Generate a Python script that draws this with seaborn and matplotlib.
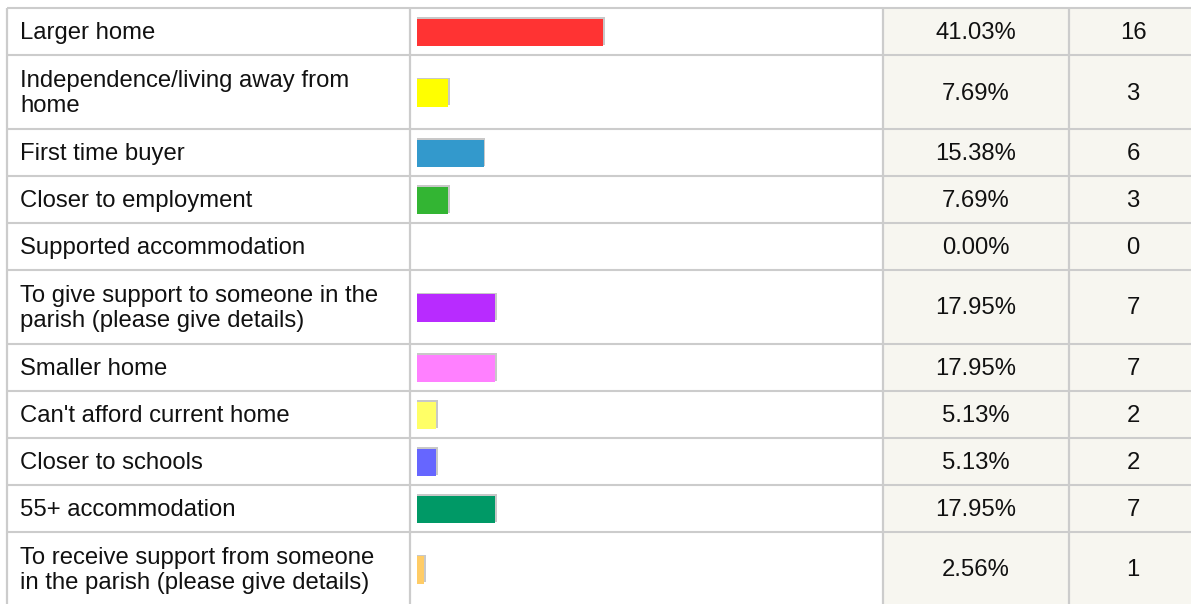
import numpy as np
import seaborn as sns
import matplotlib.pyplot as plt
from matplotlib import patheffects
from matplotlib.patches import Rectangle

labels = [
    "Larger home",
    "Independence/living away from\nhome",
    "First time buyer",
    "Closer to employment",
    "Supported accommodation",
    "To give support to someone in the\nparish (please give details)",
    "Smaller home",
    "Can't afford current home",
    "Closer to schools",
    "55+ accommodation",
    "To receive support from someone\nin the parish (please give details)",
]
percents = [41.03, 7.69, 15.38, 7.69, 0.00, 17.95, 17.95, 5.13, 5.13, 17.95, 2.56]
counts = [16, 3, 6, 3, 0, 7, 7, 2, 2, 7, 1]
colors = ["#ff3333", "#ffff00", "#3399cc", "#33b533", "#cccccc", "#b82bff",
          "#ff80ff", "#ffff66", "#6666ff", "#009966", "#ffcc66"]

W, H = 1191, 604
FONT = "Liberation Sans"
FS = 17.2
GRID = "#cccccc"
BEIGE = "#f7f6f0"

# table geometry in pixels
top = 8
left = 7
col_bar, col_pct, col_cnt = 410, 883, 1069
row_h = np.array([74 if "\n" in s else 47 for s in labels])
edges = top + np.concatenate([[0], np.cumsum(row_h)])
centers = (edges[:-1] + edges[1:]) / 2

sns.set_theme(style="white")
plt.rcParams["font.family"] = [FONT, "DejaVu Sans"]

fig = plt.figure(figsize=(W / 100, H / 100), dpi=100)
ax = fig.add_axes([0, 0, 1, 1])
ax.set_xlim(0, W)
ax.set_ylim(H, 0)
ax.axis("off")

# shaded numeric columns
ax.add_patch(Rectangle((col_pct, top), W - col_pct, H - top, color=BEIGE, zorder=0))

for y in edges:
    ax.hlines(y, left, W, color=GRID, lw=1.5, zorder=1)
for x in [left, col_bar, col_pct, col_cnt]:
    ax.vlines(x, top, H, color=GRID, lw=1.6, zorder=1)

ty = 1.5  # small downward nudge of text
for c, lab, p, n in zip(centers, labels, percents, counts):
    ax.text(20, c + ty, lab, ha="left", va="center", fontsize=FS, color="#111111",
            linespacing=1.2)
    ax.text(976, c + ty, f"{p:.2f}%", ha="center", va="center", fontsize=FS, color="#111111")
    ax.text(1133, c + ty, str(n), ha="center", va="center", fontsize=FS, color="#111111")

# bars on their own axes; the scale origin sits a few px left of where bars show
bar_x0, px_per_pct, bar_start = 412, 4.65, 417
bx = fig.add_axes([bar_x0 / W, 0, 100 * px_per_pct / W, 1])
bx.patch.set_alpha(0)
sns.barplot(x=percents, y=centers + 1, hue=labels, palette=dict(zip(labels, colors)),
            orient="h", native_scale=True, width=27.5 / row_h.min(), errorbar=None,
            saturation=1, legend=False, linewidth=0, ax=bx)
bx.set_xlim(0, 100)
bx.set_ylim(H, 0)
bx.axis("off")
clip = Rectangle(((bar_start - bar_x0) / (100 * px_per_pct), 0), 1, 1,
                 transform=bx.transAxes, visible=False)
bx.add_patch(clip)
for bar in list(bx.patches):
    if bar is clip:
        continue
    bar.set_clip_path(clip)
    bar.set_path_effects([
        patheffects.SimplePatchShadow(offset=(1.4, 1.1), shadow_rgbFace="#c8c8c8", alpha=1),
        patheffects.Normal(),
    ])

fig.savefig("out.png", dpi=100)
